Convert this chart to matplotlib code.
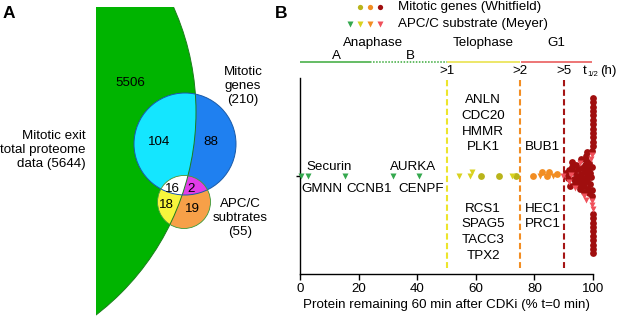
import numpy as np
import matplotlib
matplotlib.use('Agg')
import matplotlib.pyplot as plt
from matplotlib.patches import Circle, Rectangle, Polygon
import matplotlib.transforms as mtransforms

plt.rcParams['font.family'] = ['Liberation Sans', 'DejaVu Sans']

# ---------------- Panel A data ----------------
venn_values = [5506, 104, 88, 16, 2, 18, 19]   # proteome-only, proteome&mitotic, mitotic-only, all three, mitotic&APC, proteome&APC, APC-only
set_labels = ['Mitotic exit\ntotal proteome\ndata (5644)', 'Mitotic\ngenes\n(210)', 'APC/C\nsubtrates\n(55)']

# ---------------- Panel B data ----------------
green_tri = [0.5, 2.8, 15.4, 31.6, 40.7]
green_tri_labels_top = ['Securin', 'AURKA']
green_tri_labels_bottom = ['GMNN', 'CCNB1', 'CENPF']
yellow_tri = [54.3, 58.0, 58.8, 72.2]
olive_circ = [61.7, 68.0, 73.7]
orange_tri = [82.0, 86.3]
orange_circ = [79.6, 82.5, 84.2, 85.1, 87.6]
red_tri = [89.6, 91.8, 92.6, 94.0, 95.5, 96.8, 97.6, 99.4, 99.6, 99.7, 99.8, 99.9]
darkred_circ = [90.8, 91.3, 91.9, 92.3, 92.8, 93.0, 93.4, 93.6, 93.9, 94.2,
                94.5, 94.8, 95.0, 95.3, 95.6, 95.8, 96.0, 96.2, 96.4, 96.6,
                96.8, 97.0, 97.2, 97.3, 97.5, 97.6, 97.8, 97.9, 98.0, 98.2,
                98.3, 98.5, 98.7, 98.9, 99.1, 99.3, 99.5, 99.6, 99.7, 99.8,
                99.9, 100.0, 100.0, 100.0, 100.0, 100.0, 100.0, 100.0, 100.0, 100.0,
                100.0, 100.0, 100.0, 100.0, 100.0, 100.0, 100.0, 100.0, 100.0, 100.0,
                100.0, 100.0]
thresholds = [50, 75, 90]
threshold_labels = ['>1', '>2', '>5']
genes_telophase_top = ['ANLN', 'CDC20', 'HMMR', 'PLK1']
genes_telophase_bottom = ['RCS1', 'SPAG5', 'TACC3', 'TPX2']
genes_late_top = ['BUB1']
genes_late_bottom = ['HEC1', 'PRC1']
phase_names = ['Anaphase', 'Telophase', 'G1']
phase_edges = [0, 24, 50, 75, 75.5, 99.5]
xticks = [0, 20, 40, 60, 80, 100]

C_GREEN = '#34a84e'
C_YELLOW = '#d9d21f'
C_OLIVE = '#b9b41a'
C_ORANGE = '#f28d22'
C_DARKRED = '#a00e0e'
C_RED = '#f0505a'

W, H = 617, 319
fig = plt.figure(figsize=(W / 100, H / 100), dpi=100)

# overlay in pixel coordinates (y down)
ov = fig.add_axes([0, 0, 1, 1])
ov.set_xlim(0, W)
ov.set_ylim(H, 0)
ov.set_axis_off()
ov.patch.set_visible(False)

# ---------------- Panel A: Venn ----------------
def circ_poly(c, r, n=400):
    t = np.linspace(0, 2 * np.pi, n, endpoint=False)
    return np.column_stack([c[0] + r * np.cos(t), c[1] + r * np.sin(t)])

def clip_convex(subject, clipper):
    def cr(u, v):
        return u[0] * v[1] - u[1] * v[0]
    out = [tuple(p) for p in subject]
    m = len(clipper)
    for k in range(m):
        a = clipper[k]
        b = clipper[(k + 1) % m]
        ab = (b[0] - a[0], b[1] - a[1])
        inp = out
        out = []
        if not inp:
            break
        def inside(p):
            return cr(ab, (p[0] - a[0], p[1] - a[1])) >= 0
        def inter(p, q):
            t = -cr(ab, (p[0] - a[0], p[1] - a[1])) / cr(ab, (q[0] - p[0], q[1] - p[1]))
            return (p[0] + t * (q[0] - p[0]), p[1] + t * (q[1] - p[1]))
        s = inp[-1]
        for e in inp:
            if inside(e):
                if not inside(s):
                    out.append(inter(s, e))
                out.append(e)
            elif inside(s):
                out.append(inter(s, e))
            s = e
    return np.array(out)

g_c, g_r = (-60, 112), 256
b_c, b_r = (185, 144), 51
s_c, s_r = (184, 202), 26.5

clip_rect = Rectangle((96, 7), 400, 400, transform=ov.transData)
green = Circle(g_c, g_r, facecolor='#00b400', edgecolor='none', zorder=1)
ov.add_patch(green)
green.set_clip_path(clip_rect)

blue = Circle(b_c, b_r, facecolor='#1f80f0', edgecolor='none', zorder=2)
ov.add_patch(blue)
cyan = Circle(b_c, b_r, facecolor='#14e6ff', edgecolor='none', zorder=3)
ov.add_patch(cyan)
cyan.set_clip_path(Circle(g_c, g_r, transform=ov.transData))

orange = Circle(s_c, s_r, facecolor='#f7a048', edgecolor='none', zorder=4)
ov.add_patch(orange)
yellow = Circle(s_c, s_r, facecolor='#f8f53c', edgecolor='none', zorder=5)
ov.add_patch(yellow)
yellow.set_clip_path(Circle(g_c, g_r, transform=ov.transData))
magenta = Circle(s_c, s_r, facecolor='#e23ce8', edgecolor='none', zorder=6)
ov.add_patch(magenta)
magenta.set_clip_path(Circle(b_c, b_r, transform=ov.transData))
white_poly = clip_convex(clip_convex(circ_poly(s_c, s_r), circ_poly(b_c, b_r)), circ_poly(g_c, g_r, 2000))
ov.add_patch(Polygon(white_poly, closed=True, facecolor='white', edgecolor='none', zorder=7))

ge = Circle(g_c, g_r, facecolor='none', edgecolor='#1d7d1d', lw=0.7, zorder=8)
ov.add_patch(ge)
ge.set_clip_path(Rectangle((96, 7), 400, 400, transform=ov.transData))
ov.add_patch(Circle(b_c, b_r, facecolor='none', edgecolor='#1a5aa8', lw=0.7, zorder=8))
ov.add_patch(Circle(s_c, s_r, facecolor='none', edgecolor='#3a9a3a', lw=0.6, zorder=8))

fs = 9.6
venn_pos = [(130, 83), (159, 142), (211, 142), (172.5, 188.5), (191.5, 188.5), (166.5, 204.5), (192, 209.5)]
for (x, y), v in zip(venn_pos, venn_values):
    ov.text(x, y, str(v), ha='center', va='center', fontsize=fs, color='black', zorder=10)
ov.text(86, 150, set_labels[0], ha='right', va='center', fontsize=fs, linespacing=1.2)
ov.text(243, 86, set_labels[1], ha='center', va='center', fontsize=fs, linespacing=1.2)
ov.text(240, 218, set_labels[2], ha='center', va='center', fontsize=fs, linespacing=1.2)
ov.text(3, 14, 'A', ha='left', va='center', fontsize=12.5, fontweight='bold')
ov.text(275, 14, 'B', ha='left', va='center', fontsize=12.5, fontweight='bold')

# ---------------- Panel B ----------------
ax = fig.add_axes([300 / W, 45 / H, 293 / W, 196 / H])
ax.set_xlim(0, 100)
ax.set_ylim(-1, 1)
for s in ['top', 'right']:
    ax.spines[s].set_visible(False)
for s in ['left', 'bottom']:
    ax.spines[s].set_linewidth(1.0)
ax.set_xticks(xticks)
ax.set_xticklabels([str(t) for t in xticks], fontsize=fs)
ax.tick_params(axis='x', length=4.3, width=1.0, pad=2)
ax.set_yticks([0])
ax.set_yticklabels([''])
ax.tick_params(axis='y', length=3, width=1.0)
ax.set_xlabel('Protein remaining 60 min after CDKi (% t=0 min)', fontsize=fs, labelpad=3)
ax.patch.set_visible(False)

bt = mtransforms.blended_transform_factory(ax.transData, ov.transData)

# threshold dashed lines
for x, c, lab in zip(thresholds, ['#ece52c', C_ORANGE, '#a51515'], threshold_labels):
    ax.plot([x, x], [80, 268], transform=bt, color=c, lw=1.5, dashes=(3, 1.6), clip_on=False, zorder=1)
    ov.text(x, 71, lab, transform=bt, ha='center', va='center', fontsize=fs)
# t1/2 (h) label
ov.text(583, 71, 't', ha='left', va='center', fontsize=fs)
ov.text(587.5, 74.5, '1/2', ha='left', va='center', fontsize=5.6)
ov.text(600, 71, '(h)', ha='left', va='center', fontsize=fs)

# phase bar
ax.plot([phase_edges[0], phase_edges[1]], [62, 62], transform=bt, color='#3aaa3a', lw=1.1, clip_on=False, solid_capstyle='butt')
ax.plot([phase_edges[1], phase_edges[2]], [62, 62], transform=bt, color='#3aaa3a', lw=1.1, ls=(0, (1, 1)), clip_on=False)
ax.plot([phase_edges[2], phase_edges[3]], [62, 62], transform=bt, color='#e8e040', lw=1.1, clip_on=False, solid_capstyle='butt')
ax.plot([phase_edges[4], phase_edges[5]], [62, 62], transform=bt, color='#e85050', lw=1.1, clip_on=False, solid_capstyle='butt')
ov.text(25, 43, phase_names[0], transform=bt, ha='center', va='center', fontsize=fs)
ov.text(12.5, 56, 'A', transform=bt, ha='center', va='center', fontsize=fs)
ov.text(37.8, 56, 'B', transform=bt, ha='center', va='center', fontsize=fs)
ov.text(62.5, 43, phase_names[1], transform=bt, ha='center', va='center', fontsize=fs)
ov.text(87.5, 43, phase_names[2], transform=bt, ha='center', va='center', fontsize=fs)

# legend
lt = ov.transData
for x, c in zip([360, 370, 380], [C_OLIVE, C_ORANGE, C_DARKRED]):
    ov.plot([x], [7.3], marker='o', ms=3.8, color=c, mec='none', transform=lt)
for x, c in zip([350, 360, 370, 380], [C_GREEN, C_YELLOW, C_ORANGE, C_RED]):
    ov.plot([x], [24], marker='v', ms=4.0, color=c, mec='none', transform=lt)
ov.text(398, 7.3, 'Mitotic genes (Whitfield)', ha='left', va='center', fontsize=fs)
ov.text(398, 24, 'APC/C substrate (Meyer)', ha='left', va='center', fontsize=fs)

# gene labels
def stack(names, x, y0, dy=15.8):
    for i, n in enumerate(names):
        ov.text(x, y0 + i * dy, n, transform=bt, ha='center', va='center', fontsize=fs)

ov.text(10, 166.7, green_tri_labels_top[0], transform=bt, ha='center', va='center', fontsize=fs)
ov.text(38.5, 166.7, green_tri_labels_top[1], transform=bt, ha='center', va='center', fontsize=fs)
for n, x in zip(green_tri_labels_bottom, [7.4, 23.5, 41.3]):
    ov.text(x, 189, n, transform=bt, ha='center', va='center', fontsize=fs)
stack(genes_telophase_top, 62.5, 100)
stack(genes_telophase_bottom, 62.5, 208.5)
stack(genes_late_top, 82.9, 147.3)
stack(genes_late_bottom, 82.9, 208.5)

# swarm
groups = [
    (green_tri, 'v', C_GREEN, 5.0),
    (yellow_tri, 'v', C_YELLOW, 5.0),
    (olive_circ, 'o', C_OLIVE, 4.9),
    (orange_circ, 'o', C_ORANGE, 4.9),
    (orange_tri, 'v', C_ORANGE, 5.0),
    (darkred_circ, 'o', C_DARKRED, 4.9),
    (red_tri, 'v', C_RED, 5.0),
]
allx = np.concatenate([np.asarray(g[0], float) for g in groups])
gid = np.concatenate([[i] * len(g[0]) for i, g in enumerate(groups)])
xpix = ax.transData.transform(np.column_stack([allx, np.zeros_like(allx)]))[:, 0]

def swarm_offsets(xp, d):
    order = np.argsort(xp, kind='stable')
    placed = []
    ys = np.zeros(len(xp))
    for i in order:
        x = xp[i]
        neigh = [(px, py) for px, py in placed if abs(px - x) < d]
        cands = [0.0]
        for px, py in neigh:
            h = np.sqrt(max(d * d - (px - x) ** 2, 0))
            cands += [py + h, py - h]
        cands.sort(key=abs)
        for c in cands:
            if all((px - x) ** 2 + (py - c) ** 2 >= d * d - 1e-6 for px, py in neigh):
                ys[i] = c
                break
        placed.append((x, ys[i]))
    return ys

yoff_pix = swarm_offsets(xpix, 4.4)
y0pix = ax.transData.transform([[0, 0]])[0, 1]
ydata = ax.transData.inverted().transform(np.column_stack([xpix, y0pix + yoff_pix]))[:, 1]

for i, (vals, mk, col, ms) in enumerate(groups):
    sel = gid == i
    ax.plot(allx[sel], ydata[sel], ls='none', marker=mk, ms=ms, color=col, mec='none', clip_on=False, zorder=3 + (1 if mk == 'v' else 0))

fig.savefig('out.png', dpi=100)
